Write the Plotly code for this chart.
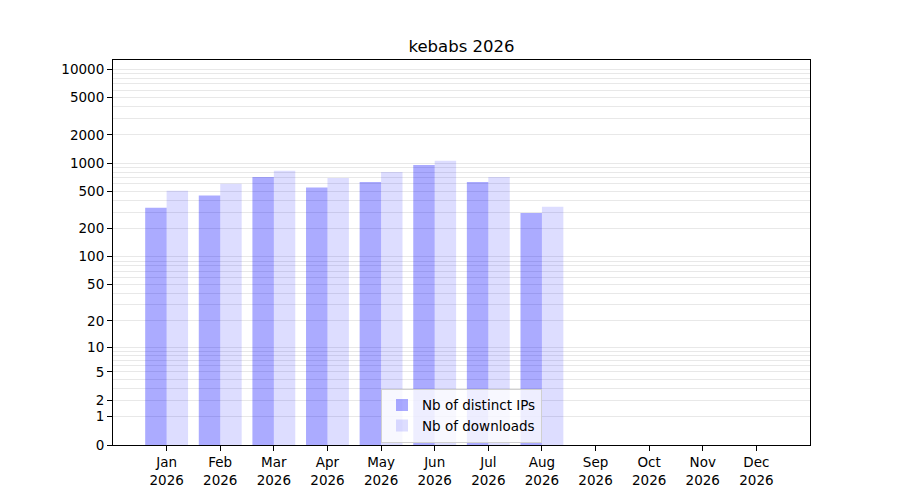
import plotly.graph_objects as go

# monthly stats, 2026 (log(1+x) y scale in the original)
months = ["Jan", "Feb", "Mar", "Apr", "May", "Jun", "Jul", "Aug", "Sep", "Oct", "Nov", "Dec"]
year = "2026"
distinct_ips = [334, 452, 714, 549, 632, 959, 632, 295, None, None, None, None]
downloads = [507, 602, 828, 697, 807, 1059, 714, 342, None, None, None, None]

y_labels = [0, 1, 2, 5, 10, 20, 50, 100, 200, 500, 1000, 2000, 5000, 10000]
decades = [1, 10, 100, 1000, 10000]
minor_vals = [m * d for d in (1, 10, 100, 1000) for m in range(2, 10)]

x_idx = list(range(len(months)))
tick_text = [f"{m}<br>{year}" for m in months]

fig = go.Figure()
fig.add_trace(go.Bar(
    x=x_idx, y=distinct_ips, base=1, width=0.4, offset=-0.4,
    name="Nb of distinct IPs", marker=dict(color="rgba(0,0,255,0.33)", line_width=0),
))
fig.add_trace(go.Bar(
    x=x_idx, y=downloads, base=1, width=0.4, offset=0,
    name="Nb of downloads", marker=dict(color="rgba(0,0,255,0.135)", line_width=0),
))

font = dict(family="DejaVu Sans", size=13.5, color="black")
# page body has an 8px margin, so the figure is 884x484 inside a 900x500 window
fig.update_layout(
    width=884, height=484,
    margin=dict(l=105, r=82, t=52, b=47),
    plot_bgcolor="white", paper_bgcolor="white",
    font=font,
    barmode="overlay",
    showlegend=True,
    title=dict(text="kebabs 2026", x=0.5, xref="paper", xanchor="center",
               y=0.921, yref="container", yanchor="middle",
               font=dict(family="DejaVu Sans", size=16.5, color="black")),
    legend=dict(x=0.5, xanchor="center", y=0.006, yanchor="bottom",
                bgcolor="rgba(255,255,255,0.8)", bordercolor="#d0d0d0", borderwidth=1,
                font=font, tracegroupgap=0),
    xaxis=dict(
        range=[-1, 12], tickvals=x_idx, ticktext=tick_text, automargin=False,
        showgrid=False, zeroline=False,
        showline=True, linecolor="black", linewidth=1, mirror=True,
        ticks="outside", ticklen=5, tickcolor="black",
    ),
    yaxis=dict(
        type="log", range=[0, 4.099], automargin=False,
        tickvals=[1 + v for v in y_labels], ticktext=[str(v) for v in y_labels],
        showgrid=True, gridcolor="#e8e8e8", gridwidth=1,
        minor=dict(tickvals=[1 + v for v in minor_vals], showgrid=True,
                   gridcolor="#e8e8e8", ticks=""),
        showline=True, linecolor="black", linewidth=1, mirror=True,
        ticks="outside", ticklen=5, tickcolor="black",
    ),
    yaxis2=dict(
        type="log", range=[0, 4.099], overlaying="y", automargin=False,
        tickvals=[1 + v for v in decades], showticklabels=False,
        showgrid=True, gridcolor="#c8c8c8", gridwidth=1,
        showline=False, ticks="",
    ),
)

fig.write_html("out.html")
